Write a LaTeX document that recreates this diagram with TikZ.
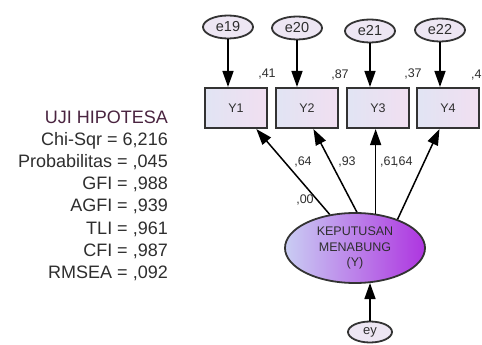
\documentclass[tikz,border=0pt]{standalone}
\usepackage{fontspec}
\setmainfont{Liberation Sans}
\usetikzlibrary{arrows.meta,shapes.geometric,calc}
\definecolor{ink}{HTML}{2E2E2E}
\definecolor{edgec}{HTML}{333333}
\definecolor{errfill}{HTML}{EDE6F3}
\definecolor{boxL}{HTML}{E1E4F3}
\definecolor{boxR}{HTML}{F1DFF1}
\definecolor{latL}{HTML}{C9CDF3}
\definecolor{latR}{HTML}{AE35E0}
\definecolor{titlec}{HTML}{4A2440}
\begin{document}
\begin{tikzpicture}[x=1pt,y=-1pt,
  err/.style={ellipse, draw=edgec, line width=1.8pt, fill=errfill, minimum width=50pt, minimum height=23pt, inner sep=0pt, font=\fontsize{14.5}{14.5}\selectfont, text=ink},
  obs/.style={rectangle, draw=edgec, line width=2.1pt, left color=boxL, right color=boxR, minimum width=62pt, minimum height=40pt, inner sep=0pt, font=\fontsize{12.5}{12.5}\selectfont, text=ink},
  lat/.style={ellipse, draw=edgec, line width=1.8pt, left color=latL, right color=latR, minimum width=140pt, minimum height=70pt, inner sep=0pt, align=center, font=\fontsize{12.5}{15.5}\selectfont, text=ink},
  arr/.style={draw=black, line width=1.5pt, -{Triangle[length=16pt,width=11pt]}},
  num/.style={font=\fontsize{12.5}{12.5}\selectfont, text=ink, inner sep=0pt},
  stat/.style={font=\fontsize{18}{18}\selectfont, text=ink, anchor=base east, inner sep=0pt}]
\useasboundingbox[fill=white] (0,0) rectangle (482,345);
% error terms
\node[err] (e19) at (228,27) {e19};
\node[err] (e20) at (297,28) {e20};
\node[err] (e21) at (370,31) {e21};
\node[err] (e22) at (440,30) {e22};
% observed
\node[obs] (Y1) at (236,108) {Y1};
\node[obs] (Y2) at (307,108) {Y2};
\node[obs] (Y3) at (378,108) {Y3};
\node[obs] (Y4) at (448,108) {Y4};
% latent
\node[lat] (K) at (355,248) {KEPUTUSAN\\MENABUNG\\(Y)};
\node[err, minimum width=44pt, minimum height=21pt, font=\fontsize{13}{13}\selectfont] (ey) at (370,332) {ey};
% arrows
\draw[arr] (e19) -- (e19 |- Y1.north);
\draw[arr] (e20) -- (e20 |- Y2.north);
\draw[arr] (e21) -- (e21 |- Y3.north);
\draw[arr] (e22) -- (e22 |- Y4.north);
\draw[arr] (K.127) -- (Y1.-46);
\draw[arr] (K.87) -- (Y2.-73);
\draw[arr] (K.59) -- (K.59 |- Y3.south);
\draw[arr] (K.34) -- (Y4.-112);
\draw[arr] (ey) -- (ey |- K.-66);
% labels
\node[num] (l41) at (267,74) {,41};
\node[num] (l87) at (340,75) {,87};
\node[num] (l37) at (413,74) {,37};
\node[num, anchor=west] (l4) at (471,75) {,4};
\node[num] (p64) at (303,162) {,64};
\node[num] (p93) at (347,162) {,93};
\node[num, anchor=west] (p61) at (380,162) {,61};
\node[num, anchor=west] (p64b) at (395,162) {,64};
\node[num] (p00) at (305,200) {,00};
% statistics
\node[stat, text=titlec] (s1) at (168,123.5) {UJI HIPOTESA};
\node[stat] (s2) at (168,145.6) {Chi-Sqr = 6,216};
\node[stat] (s3) at (168,167.7) {Probabilitas = ,045};
\node[stat] (s4) at (168,189.8) {GFI = ,988};
\node[stat] (s5) at (168,211.9) {AGFI = ,939};
\node[stat] (s6) at (168,234) {TLI = ,961};
\node[stat] (s7) at (168,256.1) {CFI = ,987};
\node[stat] (s8) at (168,278.2) {RMSEA = ,092};
\end{tikzpicture}
\end{document}
